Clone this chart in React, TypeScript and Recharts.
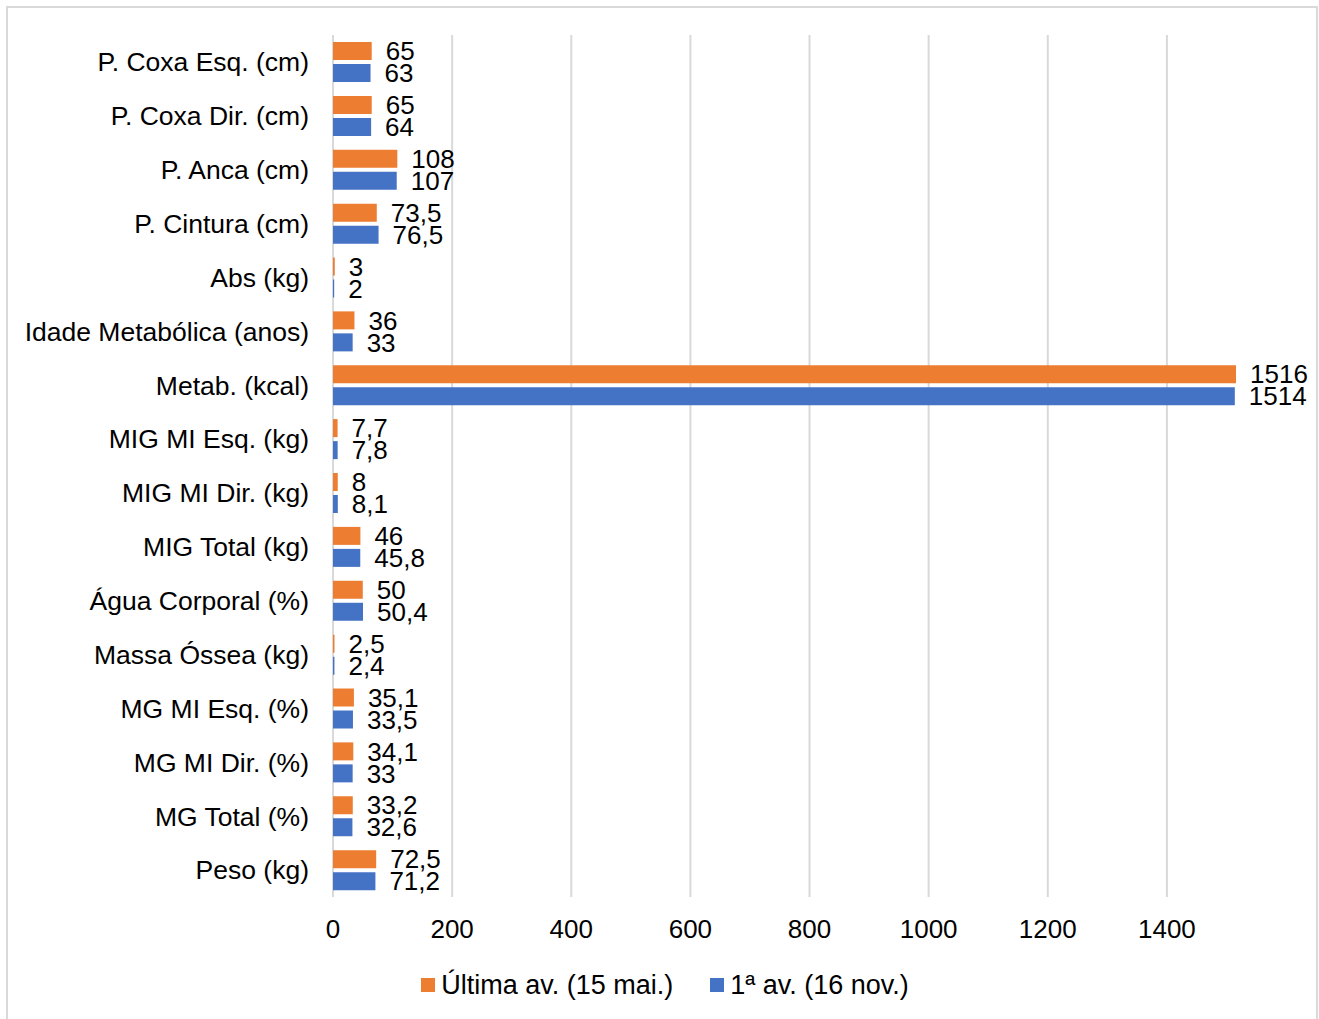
import { BarChart, Bar, XAxis, YAxis, CartesianGrid, Legend, LabelList } from 'recharts';

const categories = [
  'P. Coxa Esq. (cm)',
  'P. Coxa Dir. (cm)',
  'P. Anca (cm)',
  'P. Cintura (cm)',
  'Abs (kg)',
  'Idade Metabólica (anos)',
  'Metab. (kcal)',
  'MIG MI Esq. (kg)',
  'MIG MI Dir. (kg)',
  'MIG Total (kg)',
  'Água Corporal (%)',
  'Massa Óssea (kg)',
  'MG MI Esq. (%)',
  'MG MI Dir. (%)',
  'MG Total (%)',
  'Peso (kg)',
];

const ultimaAv = [65, 65, 108, 73.5, 3, 36, 1516, 7.7, 8, 46, 50, 2.5, 35.1, 34.1, 33.2, 72.5];
const primeiraAv = [63, 64, 107, 76.5, 2, 33, 1514, 7.8, 8.1, 45.8, 50.4, 2.4, 33.5, 33, 32.6, 71.2];

const xTicks = [0, 200, 400, 600, 800, 1000, 1200, 1400];
const X_MAX = 1516;

const ORANGE = '#ED7D31';
const BLUE = '#4472C4';
const FONT = '"Liberation Sans", Arial, sans-serif';
const FS = 26;

const chartData = categories.map((name, i) => ({
  name,
  ultima: ultimaAv[i],
  primeira: primeiraAv[i],
}));

const fmt = (v: any) => String(v).replace('.', ',');

function LegendContent() {
  const items = [
    { label: 'Última av. (15 mai.)', color: ORANGE },
    { label: '1ª av. (16 nov.)', color: BLUE },
  ];
  return (
    <div style={{ display: 'flex', justifyContent: 'center', gap: 37, fontFamily: FONT, fontSize: 27, height: 28, alignItems: 'center' }}>
      {items.map((it) => (
        <div key={it.label} style={{ display: 'flex', alignItems: 'center' }}>
          <span style={{ width: 14, height: 14, background: it.color, display: 'inline-block', marginRight: 6 }} />
          <span style={{ color: '#000' }}>{it.label}</span>
        </div>
      ))}
    </div>
  );
}

export default function App() {
  return (
    <div style={{ position: 'absolute', left: 0, top: 0, width: 1319, height: 1019, background: '#fff' }}>
      <div style={{ position: 'absolute', left: 6, top: 6, width: 1308, height: 1011, border: '2px solid #d9d9d9' }} />
      <div style={{ position: 'absolute', left: 0, top: 0 }}>
        <BarChart
          width={1319}
          height={1019}
          data={chartData}
          layout="vertical"
          margin={{ top: 35, right: 83, bottom: 20, left: 0 }}
          barCategoryGap="13%"
          barGap={4}
          style={{ fontFamily: FONT }}
        >
          <CartesianGrid
            horizontal={false}
            stroke="#d9d9d9"
            strokeWidth={2}
            verticalCoordinatesGenerator={({ offset }: any) =>
              xTicks.map((t) => offset.left + (t / X_MAX) * offset.width)
            }
          />
          <XAxis
            type="number"
            domain={[0, X_MAX]}
            ticks={xTicks}
            axisLine={false}
            tickLine={false}
            tickSize={0}
            tickMargin={23}
            height={74}
            tick={{ fill: '#000', fontSize: FS }}
          />
          <YAxis
            type="category"
            dataKey="name"
            width={333}
            axisLine={false}
            tickLine={false}
            tickSize={0}
            tickMargin={24}
            interval={0}
            tick={{ fill: '#000', fontSize: 26.5 }}
          />
          <Legend
            verticalAlign="bottom"
            content={<LegendContent />}
            wrapperStyle={{ left: 0, width: 1330 }}
          />
          <Bar dataKey="ultima" name="Última av. (15 mai.)" fill={ORANGE} isAnimationActive={false}>
            <LabelList dataKey="ultima" position="right" offset={14} formatter={fmt} fill="#000" fontSize={FS} />
          </Bar>
          <Bar dataKey="primeira" name="1ª av. (16 nov.)" fill={BLUE} isAnimationActive={false}>
            <LabelList dataKey="primeira" position="right" offset={14} formatter={fmt} fill="#000" fontSize={FS} />
          </Bar>
        </BarChart>
      </div>
    </div>
  );
}
